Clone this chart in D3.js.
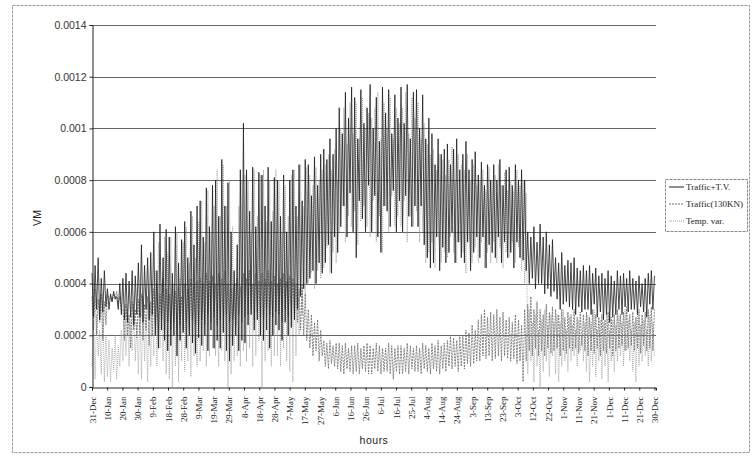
<!DOCTYPE html>
<html>
<head>
<meta charset="utf-8">
<script src="https://cdn.jsdelivr.net/npm/d3@7"></script>
<style>
  body { margin: 0; background: #fff; }
  svg { display: block; }
</style>
</head>
<body>
<div id="chart"></div>
<script>
// VM values, one sample per day (peak / trough alternating), in units of 1e-5
const VM_UNIT = 1e-5

const trafficTV = [
  44, 27, 47, 30, 50, 26, 42, 29, 45, 31,
  38, 30, 36, 33, 37, 34, 35, 30, 40, 28,
  42, 26, 44, 25, 41, 27, 45, 24, 43, 28,
  48, 27, 55, 25, 47, 30, 50, 26, 52, 28,
  60, 20, 45, 15, 63, 22, 50, 18, 61, 14,
  58, 16, 44, 20, 62, 12, 48, 18, 57, 21,
  64, 15, 50, 20, 68, 17, 55, 13, 70, 19,
  72, 16, 58, 20, 77, 14, 62, 22, 78, 15,
  80, 18, 66, 15, 88, 21, 70, 14, 79, 10,
  60, 16, 45, 20, 55, 14, 84, 18, 102, 17,
  84, 24, 68, 28, 85, 22, 62, 26, 83, 20,
  82, 18, 70, 22, 85, 15, 64, 20, 81, 24,
  80, 22, 66, 18, 82, 25, 60, 20, 80, 23,
  84, 26, 70, 30, 86, 35, 72, 38, 88, 40,
  86, 42, 74, 45, 89, 40, 78, 48, 90, 44,
  92, 48, 88, 55, 96, 44, 90, 58, 100, 52,
  108, 62, 98, 70, 114, 58, 104, 75, 116, 60,
  112, 50, 96, 72, 115, 65, 102, 60, 108, 78,
  117, 60, 100, 74, 112, 58, 95, 52, 116, 70,
  106, 68, 115, 62, 98, 76, 113, 60, 104, 72,
  116, 60, 102, 74, 117, 66, 96, 62, 114, 70,
  115, 62, 100, 70, 113, 55, 96, 50, 104, 46,
  98, 48, 86, 58, 96, 45, 90, 54, 92, 48,
  94, 52, 86, 60, 92, 48, 96, 56, 84, 50,
  90, 48, 95, 56, 84, 45, 88, 52, 91, 58,
  82, 50, 87, 58, 78, 46, 86, 55, 80, 52,
  86, 50, 80, 58, 88, 48, 78, 56, 84, 50,
  85, 52, 78, 46, 86, 56, 80, 50, 84, 49,
  80, 45, 60, 40, 58, 42, 62, 38, 56, 40,
  63, 40, 58, 36, 60, 38, 55, 35, 57, 37,
  50, 34, 48, 30, 52, 32, 47, 33, 49, 31,
  48, 30, 50, 28, 46, 31, 45, 29, 47, 30,
  45, 30, 47, 28, 44, 32, 46, 27, 43, 29,
  44, 26, 42, 28, 45, 25, 43, 27, 41, 28,
  45, 30, 43, 28, 44, 31, 42, 29, 45, 30,
  42, 30, 41, 28, 43, 31, 40, 29, 42, 27,
  44, 32, 45, 30, 43
]

const traffic130 = [
  35, 22, 38, 20, 34, 25, 36, 18, 33, 24,
  36, 34, 35, 33, 36, 34, 37, 32, 35, 30,
  30, 18, 32, 20, 28, 15, 33, 22, 30, 19,
  34, 20, 36, 18, 32, 22, 35, 16, 33, 20,
  38, 24, 40, 20, 36, 26, 42, 22, 38, 25,
  36, 22, 40, 25, 37, 20, 39, 24, 35, 22,
  40, 25, 38, 22, 42, 26, 39, 24, 41, 23,
  42, 26, 40, 24, 44, 28, 41, 25, 43, 27,
  40, 24, 44, 26, 42, 22, 45, 28, 40, 25,
  38, 26, 40, 24, 42, 28, 39, 25, 44, 27,
  42, 28, 45, 30, 40, 26, 44, 29, 41, 27,
  44, 26, 42, 30, 45, 28, 41, 27, 43, 29,
  40, 28, 42, 25, 44, 30, 41, 27, 43, 26,
  42, 28, 40, 25, 38, 22, 40, 20, 36, 18,
  30, 15, 28, 12, 25, 14, 26, 10, 22, 12,
  18, 8, 17, 7, 18, 9, 16, 8, 17, 7,
  17, 6, 16, 5, 17, 7, 15, 6, 16, 5,
  16, 6, 17, 5, 15, 7, 16, 6, 17, 5,
  16, 5, 15, 7, 17, 6, 16, 5, 15, 6,
  15, 6, 17, 5, 16, 3, 15, 6, 16, 5,
  16, 5, 15, 6, 17, 5, 16, 7, 15, 6,
  16, 6, 15, 5, 17, 7, 16, 6, 15, 5,
  17, 7, 16, 6, 18, 5, 16, 7, 17, 6,
  18, 8, 20, 7, 19, 8, 18, 6, 20, 8,
  20, 7, 22, 9, 21, 8, 24, 9, 22, 10,
  26, 10, 28, 12, 30, 11, 27, 12, 29, 10,
  28, 11, 30, 12, 27, 10, 29, 12, 26, 11,
  27, 10, 25, 11, 28, 9, 26, 10, 24, 2,
  30, 10, 32, 14, 35, 12, 30, 15, 33, 12,
  30, 14, 28, 12, 32, 15, 29, 13, 31, 14,
  30, 15, 28, 12, 30, 14, 27, 13, 29, 15,
  28, 14, 30, 15, 27, 13, 29, 16, 28, 14,
  29, 12, 27, 14, 30, 13, 28, 15, 27, 12,
  28, 14, 26, 13, 29, 15, 27, 12, 28, 14,
  30, 15, 28, 16, 29, 14, 31, 15, 28, 16,
  29, 14, 27, 15, 30, 13, 28, 16, 29, 14,
  30, 15, 31, 14, 30
]

const tempVar = [
  8, 25, 3, 28, 12, 22, 5, 30, 2, 20,
  4, 18, 2, 15, 6, 20, 3, 16, 8, 22,
  10, 28, 12, 30, 8, 26, 14, 32, 10, 25,
  5, 30, 3, 35, 10, 28, 2, 32, 8, 30,
  12, 45, 8, 56, 15, 40, 10, 58, 5, 52,
  3, 58, 0, 40, 8, 60, 2, 42, 10, 56,
  6, 62, 10, 48, 4, 66, 12, 50, 8, 64,
  10, 72, 14, 56, 8, 76, 12, 60, 15, 70,
  12, 84, 8, 66, 14, 86, 10, 70, 0, 80,
  5, 62, 10, 40, 12, 70, 8, 80, 14, 82,
  10, 80, 15, 60, 8, 84, 12, 66, 18, 82,
  0, 84, 10, 64, 14, 80, 8, 68, 12, 84,
  12, 80, 8, 60, 15, 78, 10, 66, 6, 82,
  2, 84, 12, 66, 20, 86, 28, 70, 35, 85,
  40, 82, 44, 78, 38, 85, 45, 80, 42, 84,
  46, 86, 54, 90, 44, 84, 52, 92, 48, 80,
  60, 100, 70, 108, 56, 94, 66, 110, 62, 98,
  68, 110, 55, 96, 64, 112, 70, 100, 62, 106,
  58, 104, 72, 108, 56, 114, 66, 96, 52, 110,
  70, 100, 60, 112, 74, 96, 62, 108, 66, 102,
  62, 108, 72, 114, 56, 98, 66, 112, 62, 104,
  68, 110, 56, 96, 60, 102, 48, 94, 52, 90,
  56, 92, 46, 84, 58, 90, 48, 88, 52, 82,
  50, 88, 58, 93, 52, 80, 48, 90, 56, 86,
  52, 84, 44, 90, 56, 80, 48, 86, 54, 78,
  48, 80, 56, 84, 46, 76, 52, 85, 48, 80,
  56, 82, 48, 86, 54, 78, 46, 83, 52, 76,
  50, 80, 56, 76, 48, 84, 54, 78, 45, 80,
  40, 75, 5, 30, 10, 25, 2, 28, 8, 22,
  0, 26, 6, 30, 10, 24, 4, 28, 12, 25,
  5, 28, 2, 25, 8, 30, 10, 22, 6, 27,
  10, 24, 12, 22, 8, 26, 14, 20, 10, 25,
  6, 28, 2, 25, 8, 30, 4, 22, 10, 26,
  3, 25, 8, 28, 2, 22, 10, 26, 6, 24,
  10, 28, 12, 25, 8, 30, 14, 26, 10, 22,
  6, 25, 2, 28, 8, 24, 10, 26, 12, 22,
  8, 28, 10, 25, 12
]

const dateLabels = [
  '31-Dec', '10-Jan', '20-Jan', '30-Jan', '9-Feb', '18-Feb', '28-Feb', '9-Mar',
  '19-Mar', '29-Mar', '8-Apr', '18-Apr', '28-Apr', '7-May', '17-May', '27-May',
  '6-Jun', '16-Jun', '26-Jun', '6-Jul', '16-Jul', '25-Jul', '4-Aug', '14-Aug',
  '24-Aug', '3-Sep', '13-Sep', '23-Sep', '3-Oct', '12-Oct', '22-Oct', '1-Nov',
  '11-Nov', '21-Nov', '1-Dec', '11-Dec', '21-Dec', '30-Dec'
]

const yTicks = [0, 0.0002, 0.0004, 0.0006, 0.0008, 0.001, 0.0012, 0.0014]

const seriesNames = ['Traffic+T.V.', 'Traffic(130KN)', 'Temp. var.']

const width = 754
const height = 459
const plot = { left: 92, right: 656, top: 25, bottom: 387 }

const svg = d3.select('#chart')
  .append('svg')
  .attr('width', width)
  .attr('height', height)

// outer chart frame
svg.append('rect')
  .attr('x', 12.5)
  .attr('y', 5.5)
  .attr('width', 737)
  .attr('height', 447)
  .attr('fill', 'none')
  .attr('stroke', '#999')
  .attr('stroke-dasharray', '3,1')

const x = d3.scaleLinear().domain([0, 365]).range([plot.left, plot.right])
const y = d3.scaleLinear().domain([0, 0.0014]).range([plot.bottom, plot.top])

// horizontal gridlines
svg.append('g')
  .selectAll('line')
  .data(yTicks.slice(1))
  .enter()
  .append('line')
  .attr('x1', plot.left)
  .attr('x2', plot.right)
  .attr('y1', (d) => Math.round(y(d)) + 0.5)
  .attr('y2', (d) => Math.round(y(d)) + 0.5)
  .attr('stroke', '#666')
  .attr('stroke-width', 1)

// the three series
const styles = [
  { color: '#1e1e1e', dash: null, width: 0.8 },
  { color: '#6a6a6a', dash: '2,1', width: 0.8 },
  { color: '#9a9a9a', dash: '1,1', width: 0.8 }
]
const allSeries = [trafficTV, traffic130, tempVar]

const line = d3.line()
  .x((d, i) => x(i))
  .y((d) => y(d * VM_UNIT))

// draw lighter ones first so the solid one sits on top
const order = [2, 1, 0]
order.forEach((k) => {
  svg.append('path')
    .datum(allSeries[k])
    .attr('d', line)
    .attr('fill', 'none')
    .attr('stroke', styles[k].color)
    .attr('stroke-width', styles[k].width)
    .attr('stroke-dasharray', styles[k].dash)
})

// y axis
const yAxis = d3.axisLeft(y)
  .tickValues(yTicks)
  .tickSize(3)
  .tickFormat((d) => d === 0 ? '0' : String(+d.toFixed(4)))

const gy = svg.append('g')
  .attr('transform', 'translate(' + (plot.left + 0.5) + ',0)')
  .call(yAxis)
gy.select('.domain').attr('stroke', '#222')
gy.selectAll('.tick line').attr('stroke', '#222')
gy.selectAll('text')
  .attr('fill', '#333')
  .style('font-family', 'Liberation Sans, Arial, sans-serif')
  .style('font-size', '10.5px')

// x axis, labels evenly spread like the spreadsheet category axis
const tickDays = dateLabels.map((d, i) => i * 364 / (dateLabels.length - 1))
const xAxis = d3.axisBottom(x)
  .tickValues(tickDays)
  .tickSize(3)
  .tickFormat((d, i) => dateLabels[i])

const gx = svg.append('g')
  .attr('transform', 'translate(0,' + (plot.bottom + 0.5) + ')')
  .call(xAxis)
gx.select('.domain').attr('stroke', '#222')
gx.selectAll('.tick line').attr('stroke', '#222')
gx.selectAll('text')
  .attr('fill', '#222')
  .attr('text-anchor', 'end')
  .attr('transform', 'translate(0,9) rotate(-90)')
  .attr('x', 0)
  .attr('y', 0)
  .attr('dy', '0.35em')
  .style('font-family', 'Liberation Serif, Times New Roman, serif')
  .style('font-size', '9px')

// axis titles
svg.append('text')
  .attr('x', 374)
  .attr('y', 444)
  .attr('text-anchor', 'middle')
  .style('font-family', 'Liberation Sans, Arial, sans-serif')
  .style('font-size', '10.5px')
  .style('letter-spacing', '0.5px')
  .attr('fill', '#222')
  .text('hours')

svg.append('text')
  .attr('transform', 'translate(41,218) rotate(-90)')
  .attr('text-anchor', 'middle')
  .style('font-family', 'Liberation Sans, Arial, sans-serif')
  .style('font-size', '10.5px')
  .attr('fill', '#222')
  .text('VM')

// legend
const legend = svg.append('g').attr('transform', 'translate(665,179)')
legend.append('rect')
  .attr('x', 0.5)
  .attr('y', 0.5)
  .attr('width', 82)
  .attr('height', 52)
  .attr('fill', '#fff')
  .attr('stroke', '#888')
  .attr('stroke-dasharray', '3,1')

const rows = legend.selectAll('g.row')
  .data(seriesNames)
  .enter()
  .append('g')
  .attr('class', 'row')
  .attr('transform', (d, i) => 'translate(0,' + [8, 25, 42][i] + ')')

rows.append('line')
  .attr('x1', 4)
  .attr('x2', 19)
  .attr('y1', 0)
  .attr('y2', 0)
  .attr('stroke', (d, i) => styles[i].color)
  .attr('stroke-dasharray', (d, i) => styles[i].dash)

rows.append('text')
  .attr('x', 21)
  .attr('y', 0)
  .attr('dy', '0.35em')
  .style('font-family', 'Liberation Serif, Times New Roman, serif')
  .style('font-size', '9px')
  .attr('fill', '#222')
  .text((d) => d)
</script>
</body>
</html>
